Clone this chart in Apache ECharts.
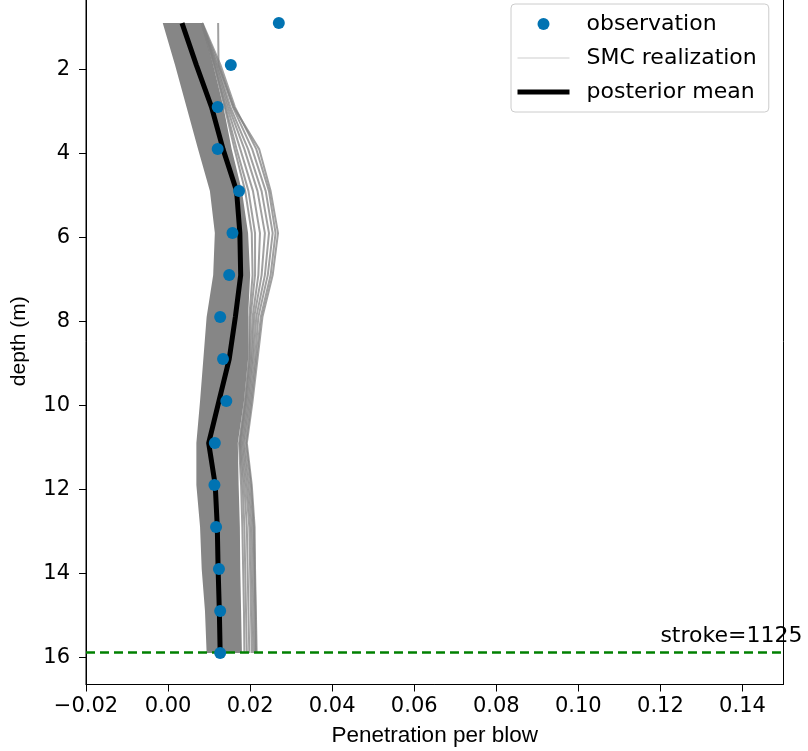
<!DOCTYPE html>
<html>
	<head>
		<meta charset="UTF-8">
		<title>SMC posterior</title>
		<script src="https://cdn.jsdelivr.net/npm/echarts@6/dist/echarts.min.js"></script>
		<style>
			body { margin: 0; background: #fff; }
		</style>
	</head>
	<body>
		<div style="width:808px;height:751px" id="main"></div>
		<script>
			// depths of the observations / model layers (m)
			var depths = [0.9, 1.9, 2.9, 3.9, 4.9, 5.9, 6.9, 7.9, 8.9, 9.9, 10.9, 11.9, 12.9, 13.9, 14.9, 15.9];
			// observed penetration per blow
			var observed = [0.0270, 0.0153, 0.0121, 0.0121, 0.0173, 0.0157, 0.0149, 0.0127, 0.0134, 0.0142, 0.0114, 0.0113, 0.0117, 0.0124, 0.0127, 0.0127];
			// posterior mean
			var postMean = [0.0034, 0.0069, 0.0106, 0.0134, 0.0167, 0.0175, 0.0177, 0.0164, 0.0149, 0.0124, 0.0099, 0.0115, 0.0120, 0.0122, 0.0125, 0.0127];
			// dense bundle of SMC realizations: left and right edges
			var smcLeft = [-0.0013, 0.0017, 0.0045, 0.0073, 0.0102, 0.0114, 0.0110, 0.0094, 0.0086, 0.0078, 0.0069, 0.0069, 0.0078, 0.0082, 0.0090, 0.0094];
			var smcRight = [0.0082, 0.0110, 0.0135, 0.0155, 0.0180, 0.0195, 0.0200, 0.0195, 0.0195, 0.0185, 0.0170, 0.0172, 0.0175, 0.0176, 0.0178, 0.0180];
			// sparse realizations outside the bundle
			var smcOuter = [
				[0.0122, 0.0123, 0.0160, 0.0222, 0.0250, 0.0268, 0.0255, 0.0230, 0.0218, 0.0206, 0.0192, 0.0204, 0.0211, 0.0212, 0.0214, 0.0216],
				[0.0084, 0.0128, 0.0163, 0.0215, 0.0246, 0.0262, 0.0250, 0.0226, 0.0215, 0.0203, 0.0190, 0.0202, 0.0209, 0.0211, 0.0213, 0.0214],
				[0.0083, 0.0124, 0.0158, 0.0205, 0.0238, 0.0255, 0.0243, 0.0220, 0.0212, 0.0200, 0.0186, 0.0198, 0.0206, 0.0208, 0.0210, 0.0212],
				[0.0083, 0.0120, 0.0152, 0.0195, 0.0228, 0.0246, 0.0236, 0.0215, 0.0208, 0.0197, 0.0183, 0.0194, 0.0202, 0.0204, 0.0206, 0.0208],
				[0.0082, 0.0118, 0.0148, 0.0186, 0.0218, 0.0236, 0.0228, 0.0210, 0.0205, 0.0194, 0.0180, 0.0190, 0.0198, 0.0200, 0.0202, 0.0204],
				[0.0082, 0.0115, 0.0144, 0.0176, 0.0207, 0.0224, 0.0220, 0.0206, 0.0202, 0.0191, 0.0177, 0.0186, 0.0192, 0.0194, 0.0196, 0.0198],
				[0.0082, 0.0113, 0.0140, 0.0167, 0.0196, 0.0212, 0.0212, 0.0201, 0.0199, 0.0189, 0.0175, 0.0182, 0.0186, 0.0188, 0.0190, 0.0192],
				[0.0082, 0.0112, 0.0138, 0.0162, 0.0188, 0.0204, 0.0206, 0.0198, 0.0197, 0.0187, 0.0173, 0.0178, 0.0181, 0.0183, 0.0185, 0.0186]
			];
			var strokeDepth = 15.87;
			var strokeText = 'stroke=1125';
			var strokeTextX = 0.12;
			var xTicks = [-0.02, 0, 0.02, 0.04, 0.06, 0.08, 0.10, 0.12, 0.14];
			var yTicks = [2, 4, 6, 8, 10, 12, 14, 16];

			function pairs(xs) {
				return xs.map(function(x, i) { return [x, depths[i]]; });
			}

			var tickFont = { fontFamily: 'DejaVu Sans', fontSize: 21, color: '#000' };
			var series = [];

			// the dense part of the realization bundle
			series.push({
				type: 'custom',
				silent: true,
				data: [[smcLeft[0], depths[0]]],
				renderItem: function(params, api) {
					var pts = [];
					for (var i = 0; i < depths.length; i++) pts.push(api.coord([smcLeft[i], depths[i]]));
					for (var j = depths.length - 1; j >= 0; j--) pts.push(api.coord([smcRight[j], depths[j]]));
					return { type: 'polygon', shape: { points: pts }, style: { fill: '#868686' } };
				},
				z: 1
			});

			smcOuter.forEach(function(r) {
				series.push({
					name: 'SMC realization',
					type: 'line',
					data: pairs(r),
					symbol: 'none',
					color: 'rgba(128,128,128,0.75)',
					lineStyle: { width: 2, color: 'rgba(128,128,128,0.75)' },
					z: 2
				});
			});

			// stroke marker
			series.push({
				type: 'line',
				data: [],
				markLine: {
					silent: true,
					symbol: 'none',
					label: { show: false },
					lineStyle: { color: '#008000', type: [9, 5], width: 2.5 },
					data: [{ yAxis: strokeDepth }]
				},
				z: 3
			});
			series.push({
				type: 'custom',
				clip: false,
				silent: true,
				data: [[strokeTextX, strokeDepth]],
				renderItem: function(params, api) {
					var p = api.coord([api.value(0), api.value(1)]);
					return {
						type: 'text',
						x: p[0], y: p[1] - 16,
						style: { text: strokeText, fontFamily: 'DejaVu Sans', fontSize: 22, fill: '#000', align: 'left', verticalAlign: 'middle' }
					};
				},
				z: 3
			});

			series.push({
				name: 'posterior mean',
				type: 'line',
				data: pairs(postMean),
				symbol: 'none',
				color: '#000',
				lineStyle: { width: 5, color: '#000' },
				z: 4
			});

			series.push({
				name: 'observation',
				type: 'scatter',
				data: pairs(observed),
				symbolSize: 12,
				itemStyle: { color: '#0173b2', opacity: 1 },
				z: 5
			});

			var hiddenSymbol = { opacity: 0, borderWidth: 0 };

			var myChart = echarts.init(document.getElementById('main'));
			myChart.setOption({
				animation: false,
				grid: {
					left: 86, right: 24.5, top: -2, bottom: 66.5,
					outerBoundsMode: 'none',
					show: true, borderColor: '#000', borderWidth: 1
				},
				legend: {
					left: 511, top: 4,
					orient: 'vertical',
					itemWidth: 52, itemHeight: 12, itemGap: 10,
					padding: [8, 12, 8, 4],
					backgroundColor: 'rgba(255,255,255,0.8)',
					borderColor: '#cccccc', borderWidth: 1, borderRadius: 4,
					textStyle: { fontFamily: 'DejaVu Sans', fontSize: 22, color: '#000', lineHeight: 24, padding: [0, 0, 0, 12] },
					data: [
						{ name: 'observation', icon: 'circle' },
						{ name: 'SMC realization', itemStyle: hiddenSymbol, lineStyle: { color: '#dedede', width: 1.5 } },
						{ name: 'posterior mean', itemStyle: hiddenSymbol, lineStyle: { color: '#000', width: 5 } }
					]
				},
				xAxis: {
					type: 'value',
					min: -0.02, max: 0.15,
					name: 'Penetration per blow',
					nameLocation: 'middle',
					nameGap: 40,
					nameTextStyle: { fontFamily: 'Liberation Sans', fontSize: 22.5, color: '#000' },
					axisLine: { onZero: false, lineStyle: { color: '#000', width: 1 } },
					axisTick: { inside: false, length: 7, lineStyle: { color: '#000' }, customValues: xTicks },
					axisLabel: Object.assign({
						margin: 12,
						customValues: xTicks,
						formatter: function(v) {
							var s = Math.abs(v).toFixed(2);
							return v < -1e-9 ? '\u2212' + s : s;
						}
					}, tickFont),
					splitLine: { show: false }
				},
				yAxis: {
					type: 'value',
					inverse: true,
					min: 0.302, max: 16.648,
					name: 'depth (m)',
					nameLocation: 'middle',
					nameRotate: 90,
					nameGap: 56,
					nameTextStyle: { fontFamily: 'Liberation Sans', fontSize: 21, color: '#000' },
					axisLine: { show: true, onZero: false, lineStyle: { color: '#000', width: 1 } },
					axisTick: { show: true, inside: false, length: 7, lineStyle: { color: '#000' }, customValues: yTicks },
					axisLabel: Object.assign({ margin: 16, customValues: yTicks }, tickFont),
					splitLine: { show: false }
				},
				series: series
			});
		</script>
	</body>
</html>
